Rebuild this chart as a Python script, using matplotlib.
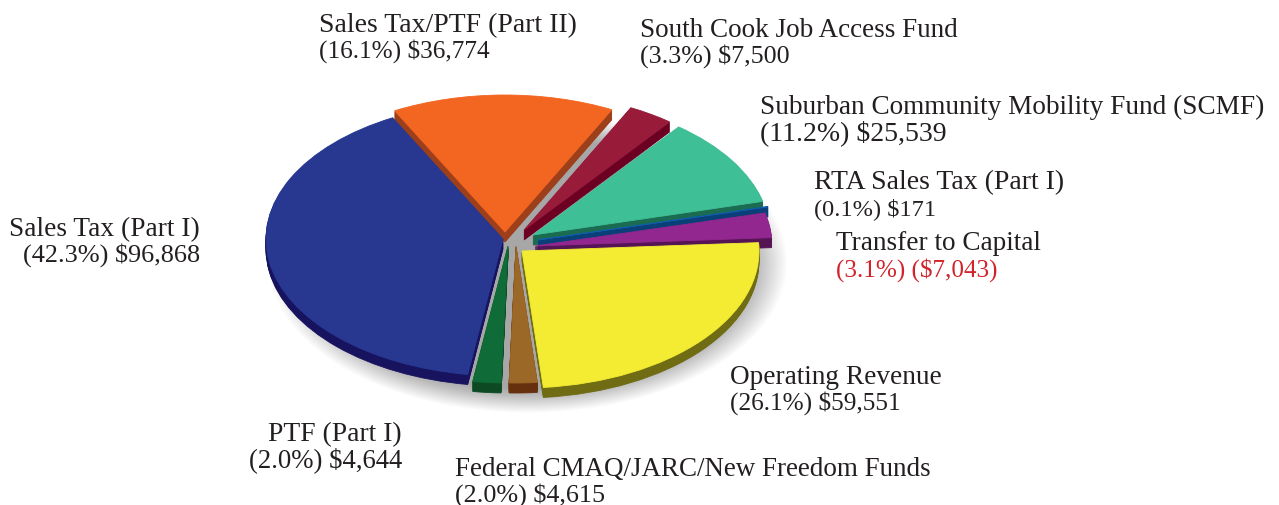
import matplotlib
matplotlib.use("Agg")
import matplotlib.pyplot as plt

plt.rcParams['font.family'] = ['Liberation Serif', 'DejaVu Serif']

W, H = 1279, 506
RX, RY = 237.0, 137.0
YK = RX / RY          # squash: one pixel in y is YK data units

# data, clockwise from the right hand side
names = ['Operating Revenue', 'Federal CMAQ/JARC/New Freedom Funds', 'PTF (Part I)',
         'Sales Tax (Part I)', 'Sales Tax/PTF (Part II)', 'South Cook Job Access Fund',
         'Suburban Community Mobility Fund (SCMF)', 'RTA Sales Tax (Part I)', 'Transfer to Capital']
amounts = [59551, 4615, 4644, 96868, 36774, 7500, 25539, 171, 7043]
amount_labels = ['(26.1%) $59,551', '(2.0%) $4,615', '(2.0%) $4,644', '(42.3%) $96,868',
                 '(16.1%) $36,774', '(3.3%) $7,500', '(11.2%) $25,539', '(0.1%) $171',
                 '(3.1%) ($7,043)']

top_colors = ['#F3EC33', '#9C6828', '#0F6B38', '#283891', '#F36621', '#981B3A',
              '#3FBF96', '#0F5CA8', '#92278F']
side_colors = ['#6F6C14', '#66300F', '#0D4A24', '#17135F', '#9E3F1B', '#6B0023',
               '#1B6B50', '#0A3F78', '#551555']

# where each exploded slice has its tip, in pixels
slice_tips = [(522, 252), (516, 247), (508, 247), (503, 240), (505, 233),
              (524, 231), (533, 236), (538, 241), (535, 247)]

# label position: x, first baseline, second baseline, alignment
label_pos = [(730, 384, 410, 'left'), (455, 476, 502, 'left'), (402, 441, 467, 'right'),
             (200, 236, 262, 'right'), (319, 32, 58, 'left'), (640, 37, 63, 'left'),
             (760, 114, 140, 'left'), (814, 189, 215, 'left'), (836, 250, 277, 'left')]
name_sizes = [19.6, 19.45, 19.9, 19.75, 20.0, 19.5, 19.65, 20.0, 19.65]
amount_sizes = [18.2, 18.8, 19.3, 18.9, 18.2, 18.7, 20.0, 17.6, 18.1]
second_line_colors = ['#231F20'] * 8 + ['#D2232A']

DEPTH = 10
START = 3.5

fig = plt.figure(figsize=(W / 100, H / 100), dpi=100)
ax = fig.add_axes([0, 0, 1, 1])


def draw_slices(drop, colors):
    wedges, _ = ax.pie(amounts, colors=colors, startangle=START, counterclock=False,
                       radius=RX, frame=False, wedgeprops={'linewidth': 0.6})
    for w, c, tip in zip(wedges, colors, slice_tips):
        w.set_center((tip[0], (H - tip[1] - drop) * YK))
        w.set_edgecolor(c)


# soft shadow, stacked see through ellipses
for i in range(24):
    ax.pie([1], colors=['#000000'], radius=RX * (0.92 + 0.0075 * i),
           center=(528, (H - 264) * YK), frame=False,
           wedgeprops={'linewidth': 0, 'alpha': 0.016})

# sides
for d in range(DEPTH, 0, -1):
    draw_slices(d, side_colors)

# top faces
draw_slices(0, top_colors)

ax.set_aspect('auto')
ax.set_xlim(0, W)
ax.set_ylim(0, H * YK)
ax.axis('off')

for i in range(len(names)):
    x, y1, y2, ha = label_pos[i]
    fig.text(x / W, 1 - y1 / H, names[i], fontsize=name_sizes[i], color='#231F20', ha=ha, va='baseline')
    fig.text(x / W, 1 - y2 / H, amount_labels[i], fontsize=amount_sizes[i],
             color=second_line_colors[i], ha=ha, va='baseline')

fig.savefig('out.png', dpi=100, facecolor='white')
